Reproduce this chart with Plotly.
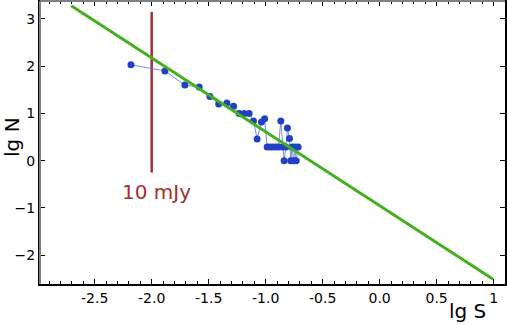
import plotly.graph_objects as go

# observed source counts (lg S, lg N)
lg_s = [-2.182, -1.884, -1.709, -1.583, -1.489, -1.412, -1.340, -1.282,
        -1.232, -1.189, -1.145, -1.107, -1.075, -1.037, -1.009,
        -0.987, -0.962, -0.937, -0.912, -0.887, -0.867, -0.852, -0.838,
        -0.822, -0.809, -0.791, -0.780, -0.768, -0.755, -0.742, -0.732, -0.715]
lg_n = [2.03, 1.90, 1.60, 1.56, 1.36, 1.20, 1.22, 1.15,
        1.00, 1.00, 1.00, 0.84, 0.46, 0.82, 0.89,
        0.29, 0.29, 0.29, 0.29, 0.29, 0.84, 0.29, 0.00,
        0.29, 0.69, 0.47, 0.00, 0.29, 0.00, 0.29, 0.00, 0.29]

# fitted power law
fit_s = [-2.706, 0.996]
fit_n = [3.28, -2.51]

# 10 mJy limit
limit_s = [-2.0, -2.0]
limit_n = [3.15, -0.25]

green = "#44b022"
brown = "#a33030"
blue = "#2141c2"

fig = go.Figure()
fig.add_trace(go.Scatter(x=limit_s, y=limit_n, mode="lines",
                         line=dict(color=brown, width=2.5)))
fig.add_trace(go.Scatter(x=lg_s, y=lg_n, mode="lines+markers",
                         line=dict(color="#5572d6", width=0.8),
                         marker=dict(color=blue, size=7)))
fig.add_trace(go.Scatter(x=fit_s, y=fit_n, mode="lines",
                         line=dict(color=green, width=3)))

fig.add_annotation(x=-1.96, y=-0.67, text="10 mJy", showarrow=False,
                   font=dict(size=20, color=brown))
fig.add_annotation(xref="paper", yref="paper", x=-0.06, y=0.52, text="lg N",
                   xanchor="center", yanchor="middle",
                   textangle=-90, showarrow=False, font=dict(size=20, color="black"))
fig.add_annotation(xref="paper", yref="paper", x=0.92, y=-0.095, text="lg S",
                   xanchor="center", yanchor="middle",
                   showarrow=False, font=dict(size=20, color="black"))

# gray left and top spines
fig.add_shape(type="line", xref="paper", yref="paper", x0=0, x1=0, y0=0, y1=1,
              line=dict(color="#808080", width=2), layer="above")
fig.add_shape(type="line", xref="paper", yref="paper", x0=0, x1=1, y0=1, y1=1,
              line=dict(color="#808080", width=2), layer="above")

fig.update_xaxes(range=[-2.98, 1.10], tickvals=[-2.5, -2.0, -1.5, -1.0, -0.5, 0.0, 0.5, 1.0],
                 ticktext=["-2.5", "-2.0", "-1.5", "-1.0", "-0.5", "0.0", "0.5", "1"],
                 ticks="inside", ticklen=5, tickcolor="black", tickwidth=1,
                 minor=dict(dtick=0.1, tick0=0, ticks="inside", ticklen=3, tickcolor="black"),
                 showline=True, linecolor="black", linewidth=2, mirror="ticks",
                 showgrid=False, zeroline=False, automargin=False,
                 tickfont=dict(size=14))
fig.update_yaxes(range=[-2.61, 3.38], tickvals=[-2, -1, 0, 1, 2, 3],
                 ticks="inside", ticklen=5, tickcolor="black", tickwidth=1,
                 showline=True, linecolor="black", linewidth=2, mirror="ticks",
                 showgrid=False, zeroline=False, automargin=False,
                 tickfont=dict(size=14))

fig.update_layout(
    width=507, height=325,
    margin=dict(l=40, r=2, t=1, b=41),
    plot_bgcolor="white", paper_bgcolor="white",
    showlegend=False,
    font=dict(family="DejaVu Sans", size=13, color="black"),
)

# drop the default page margin so the figure sits at the window's corner
fig.write_html("out.html", config={"displayModeBar": False},
               post_script="document.body.style.margin='0';")
